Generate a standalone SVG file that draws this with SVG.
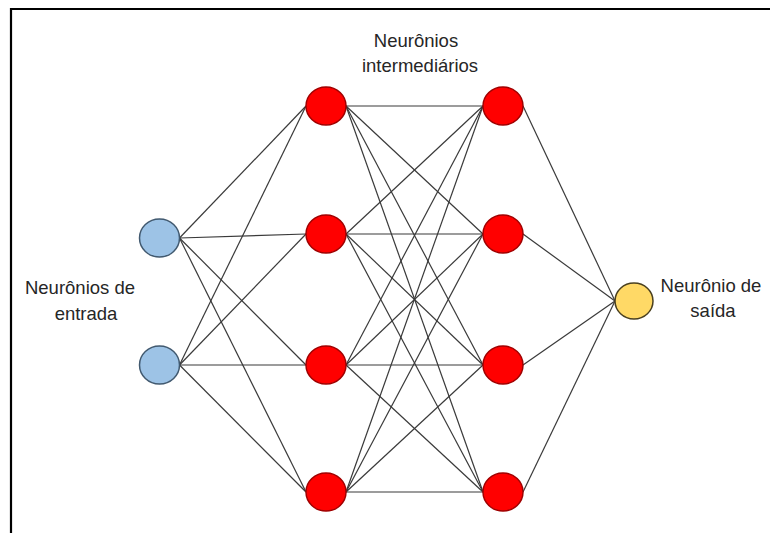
<svg xmlns="http://www.w3.org/2000/svg" width="770" height="533" viewBox="0 0 770 533">
<style>
.lbl{font-family:"Liberation Sans",Arial,sans-serif;font-size:18.5px;fill:#262626;text-anchor:middle}
.e line{stroke:#3a3a3a;stroke-width:1.2}
.in{fill:#9DC3E6;stroke:#41596F;stroke-width:1.5}
.hid{fill:#FF0000;stroke:#A00000;stroke-width:1.5}
.out{fill:#FFD966;stroke:#4A4020;stroke-width:1.5}
</style>
<rect width="770" height="533" fill="#fff"/>
<path d="M11,533 V9 H770" fill="none" stroke="#000" stroke-width="2.2"/>
<g id="connectors" class="e">
<line x1="179.5" y1="238" x2="306" y2="106"/>
<line x1="179.5" y1="238" x2="306" y2="234"/>
<line x1="179.5" y1="238" x2="306" y2="365"/>
<line x1="179.5" y1="238" x2="306" y2="492"/>
<line x1="179.5" y1="365" x2="306" y2="106"/>
<line x1="179.5" y1="365" x2="306" y2="234"/>
<line x1="179.5" y1="365" x2="306" y2="365"/>
<line x1="179.5" y1="365" x2="306" y2="492"/>
<line x1="346" y1="106" x2="483" y2="106"/>
<line x1="346" y1="106" x2="483" y2="234"/>
<line x1="346" y1="106" x2="483" y2="365"/>
<line x1="346" y1="106" x2="483" y2="492"/>
<line x1="346" y1="234" x2="483" y2="106"/>
<line x1="346" y1="234" x2="483" y2="234"/>
<line x1="346" y1="234" x2="483" y2="365"/>
<line x1="346" y1="234" x2="483" y2="492"/>
<line x1="346" y1="365" x2="483" y2="106"/>
<line x1="346" y1="365" x2="483" y2="234"/>
<line x1="346" y1="365" x2="483" y2="365"/>
<line x1="346" y1="365" x2="483" y2="492"/>
<line x1="346" y1="492" x2="483" y2="106"/>
<line x1="346" y1="492" x2="483" y2="234"/>
<line x1="346" y1="492" x2="483" y2="365"/>
<line x1="346" y1="492" x2="483" y2="492"/>
<line x1="523" y1="106" x2="615" y2="301"/>
<line x1="523" y1="234" x2="615" y2="301"/>
<line x1="523" y1="365" x2="615" y2="301"/>
<line x1="523" y1="492" x2="615" y2="301"/>
</g>
<g id="in1"><ellipse class="in" cx="159.5" cy="238" rx="20" ry="19"/></g>
<g id="in2"><ellipse class="in" cx="159.5" cy="365" rx="20" ry="19"/></g>
<g id="h11"><ellipse class="hid" cx="326" cy="106" rx="20" ry="19"/></g>
<g id="h12"><ellipse class="hid" cx="326" cy="234" rx="20" ry="19"/></g>
<g id="h13"><ellipse class="hid" cx="326" cy="365" rx="20" ry="19"/></g>
<g id="h14"><ellipse class="hid" cx="326" cy="492" rx="20" ry="19"/></g>
<g id="h21"><ellipse class="hid" cx="503" cy="106" rx="20" ry="19"/></g>
<g id="h22"><ellipse class="hid" cx="503" cy="234" rx="20" ry="19"/></g>
<g id="h23"><ellipse class="hid" cx="503" cy="365" rx="20" ry="19"/></g>
<g id="h24"><ellipse class="hid" cx="503" cy="492" rx="20" ry="19"/></g>
<g id="out"><ellipse class="out" cx="634" cy="301" rx="19" ry="18"/></g>
<g id="label-mid"><text class="lbl" x="416" y="47">Neurônios</text><text class="lbl" x="420" y="72">intermediários</text></g>
<g id="label-in"><text class="lbl" x="80" y="294">Neurônios de</text><text class="lbl" x="86" y="320">entrada</text></g>
<g id="label-out"><text class="lbl" x="711" y="292">Neurônio de</text><text class="lbl" x="713" y="317">saída</text></g>
</svg>
